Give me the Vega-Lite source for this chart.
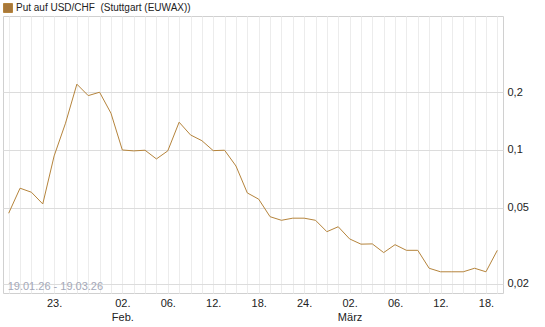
{
  "$schema": "https://vega.github.io/schema/vega-lite/v6.json",
  "width": 500,
  "height": 277,
  "autosize": {"type": "none"},
  "padding": {"left": 3, "top": 16, "right": 42, "bottom": 34},
  "background": "#ffffff",
  "config": {
    "font": "Liberation Sans",
    "view": {"stroke": "#d0d0d0", "strokeWidth": 1}
  },
  "data": {
    "values": [
      {"d": "2026-01-19", "v": 0.0467},
      {"d": "2026-01-20", "v": 0.0631},
      {"d": "2026-01-21", "v": 0.0601},
      {"d": "2026-01-22", "v": 0.0522},
      {"d": "2026-01-23", "v": 0.0930},
      {"d": "2026-01-26", "v": 0.1378},
      {"d": "2026-01-27", "v": 0.2203},
      {"d": "2026-01-28", "v": 0.1920},
      {"d": "2026-01-29", "v": 0.2000},
      {"d": "2026-01-30", "v": 0.1554},
      {"d": "2026-02-02", "v": 0.0999},
      {"d": "2026-02-03", "v": 0.0988},
      {"d": "2026-02-04", "v": 0.0996},
      {"d": "2026-02-05", "v": 0.0897},
      {"d": "2026-02-06", "v": 0.0988},
      {"d": "2026-02-09", "v": 0.1395},
      {"d": "2026-02-10", "v": 0.1197},
      {"d": "2026-02-11", "v": 0.1117},
      {"d": "2026-02-12", "v": 0.0991},
      {"d": "2026-02-13", "v": 0.0996},
      {"d": "2026-02-16", "v": 0.0824},
      {"d": "2026-02-17", "v": 0.0596},
      {"d": "2026-02-18", "v": 0.0553},
      {"d": "2026-02-19", "v": 0.0448},
      {"d": "2026-02-20", "v": 0.0429},
      {"d": "2026-02-23", "v": 0.0440},
      {"d": "2026-02-24", "v": 0.0440},
      {"d": "2026-02-25", "v": 0.0429},
      {"d": "2026-02-26", "v": 0.0374},
      {"d": "2026-02-27", "v": 0.0397},
      {"d": "2026-03-02", "v": 0.0343},
      {"d": "2026-03-03", "v": 0.0322},
      {"d": "2026-03-04", "v": 0.0323},
      {"d": "2026-03-05", "v": 0.0291},
      {"d": "2026-03-06", "v": 0.0320},
      {"d": "2026-03-09", "v": 0.0299},
      {"d": "2026-03-10", "v": 0.0299},
      {"d": "2026-03-11", "v": 0.0241},
      {"d": "2026-03-12", "v": 0.0231},
      {"d": "2026-03-13", "v": 0.0231},
      {"d": "2026-03-16", "v": 0.0231},
      {"d": "2026-03-17", "v": 0.0241},
      {"d": "2026-03-18", "v": 0.0231},
      {"d": "2026-03-19", "v": 0.0299}
    ]
  },
  "layer": [
    {
      "mark": {"type": "line", "strokeWidth": 1, "interpolate": "linear"},
      "encoding": {
        "x": {
          "field": "d",
          "type": "ordinal",
          "sort": null,
          "scale": {"type": "point", "padding": 0.5},
          "axis": {
            "title": null,
            "domain": false,
            "ticks": false,
            "grid": true,
            "gridColor": "#ececec",
            "gridWidth": 1,
            "labelAngle": 0,
            "labelOverlap": false,
            "labelFont": "Liberation Sans",
            "labelFontSize": 11,
            "labelColor": "#222222",
            "labelPadding": 4,
            "labelLineHeight": 14,
            "labelBaseline": "top",
            "labelExpr": "datum.value == '2026-02-02' ? ['02.', 'Feb.'] : datum.value == '2026-03-02' ? ['02.', 'März'] : indexof(['2026-01-23','2026-02-06','2026-02-12','2026-02-18','2026-02-24','2026-03-06','2026-03-12','2026-03-18'], datum.value) >= 0 ? slice(datum.value, 8) + '.' : ''"
          }
        },
        "y": {
          "field": "v",
          "type": "quantitative",
          "scale": {"type": "log", "domain": [0.0179, 0.5], "nice": false, "zero": false},
          "axis": {
            "orient": "right",
            "title": null,
            "values": [0.02, 0.05, 0.1, 0.2],
            "domain": false,
            "ticks": false,
            "grid": true,
            "gridColor": "#dcdcdc",
            "gridWidth": 1,
            "labelFont": "Liberation Sans",
            "labelFontSize": 11,
            "labelColor": "#222222",
            "labelPadding": 4,
            "labelExpr": "replace(toString(datum.value), '.', ',')"
          }
        },
        "color": {
          "datum": "Put auf USD/CHF \u00a0(Stuttgart (EUWAX))",
          "type": "nominal",
          "scale": {"range": ["#b5843c"]},
          "legend": {
            "orient": "none",
            "legendX": 0,
            "legendY": -13,
            "title": null,
            "padding": 0,
            "symbolType": "square",
            "symbolSize": 81,
            "labelFont": "Liberation Sans",
            "labelFontSize": 10,
            "labelColor": "#222222",
            "labelOffset": 3,
            "labelLimit": 500,
            "encode": {
              "symbols": {"update": {"fill": {"value": "#a8783a"}, "stroke": {"value": "#444444"}, "strokeWidth": {"value": 1}}}
            }
          }
        }
      }
    },
    {
      "data": {"values": [{"t": "19.01.26 - 19.03.26"}]},
      "mark": {"type": "text", "align": "left", "baseline": "alphabetic", "dy": -3, "dx": -1, "fontSize": 11, "font": "Liberation Sans", "color": "#a4a8b8"},
      "encoding": {
        "x": {"datum": "2026-01-19", "type": "ordinal"},
        "y": {"datum": 0.0179, "type": "quantitative"},
        "text": {"field": "t"}
      }
    }
  ]
}
